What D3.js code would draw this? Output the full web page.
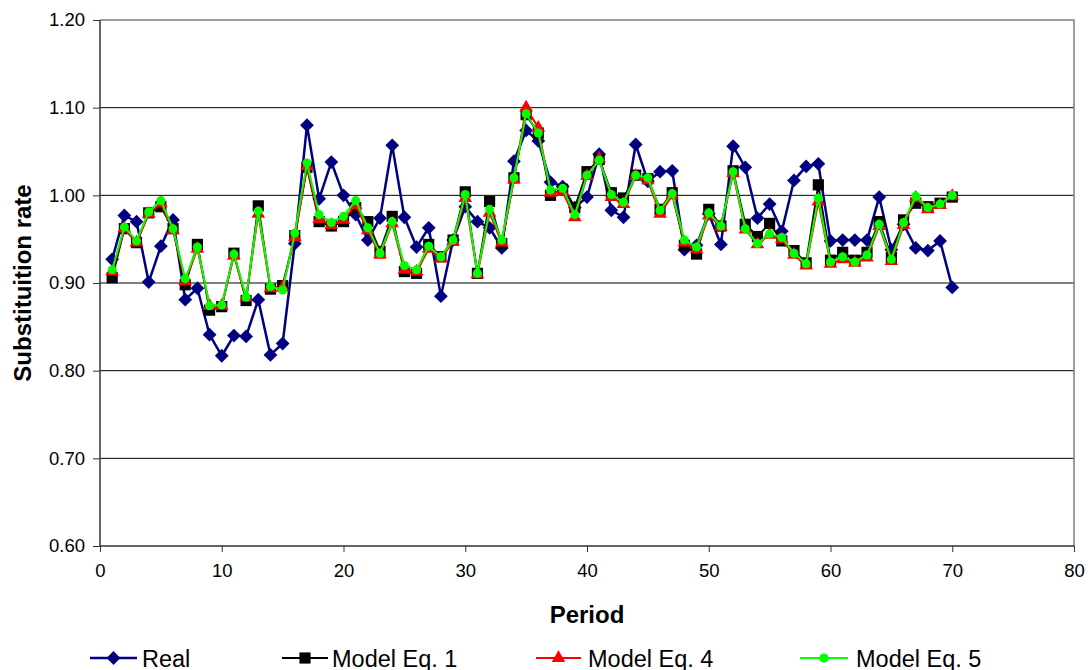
<!DOCTYPE html>
<html><head><meta charset="utf-8">
<script src="https://cdn.jsdelivr.net/npm/d3@7/dist/d3.min.js"></script>
<style>
html,body{margin:0;padding:0;background:#fff;}
svg{display:block;font-family:"Liberation Sans",Arial,sans-serif;}
</style></head>
<body>
<svg id="chart" width="1089" height="670"></svg>
<script>
const periods = d3.range(1, 71);
const real = [0.927,0.977,0.970,0.901,0.942,0.972,0.881,0.894,0.841,0.817,
0.840,0.839,0.881,0.818,0.831,0.945,1.080,0.996,1.038,1.000,
0.978,0.949,0.974,1.057,0.975,0.941,0.963,0.885,0.949,0.987,
0.970,0.963,0.940,1.039,1.074,1.062,1.015,1.010,0.986,0.998,
1.047,0.983,0.975,1.058,1.016,1.027,1.028,0.938,0.943,0.979,
0.944,1.056,1.032,0.974,0.990,0.959,1.017,1.033,1.036,0.948,
0.949,0.949,0.949,0.998,0.938,0.967,0.940,0.937,0.948,0.895];
const eq1 = [0.906,0.962,0.946,0.980,0.987,0.962,0.898,0.944,0.869,0.873,
0.934,0.880,0.988,0.893,0.897,0.954,1.032,0.970,0.965,0.970,
0.986,0.970,0.936,0.976,0.913,0.911,0.944,0.930,0.949,1.004,
0.911,0.993,0.945,1.020,1.092,1.071,1.000,1.007,0.986,1.027,
1.041,1.003,0.997,1.023,1.019,0.984,1.003,0.943,0.933,0.984,
0.965,1.028,0.967,0.953,0.968,0.948,0.937,0.923,1.012,0.926,
0.935,0.926,0.935,0.970,0.929,0.972,0.991,0.987,0.991,0.998];
const eq4 = [0.913,0.962,0.946,0.979,0.991,0.960,0.902,0.939,0.874,0.874,
0.931,0.883,0.979,0.894,0.895,0.952,1.033,0.973,0.966,0.972,
0.989,0.960,0.932,0.968,0.915,0.913,0.939,0.928,0.947,0.997,
0.910,0.980,0.946,1.018,1.100,1.077,1.003,1.004,0.975,1.022,
1.042,0.998,0.990,1.022,1.017,0.979,1.000,0.946,0.938,0.977,
0.964,1.025,0.961,0.944,0.955,0.950,0.932,0.920,0.993,0.922,
0.927,0.923,0.929,0.965,0.925,0.966,0.997,0.984,0.989,0.999];
const eq5 = [0.915,0.964,0.948,0.981,0.994,0.962,0.905,0.941,0.874,0.875,
0.933,0.884,0.982,0.896,0.892,0.957,1.037,0.978,0.969,0.976,
0.994,0.963,0.934,0.970,0.920,0.915,0.942,0.930,0.949,1.001,
0.911,0.984,0.949,1.020,1.093,1.071,1.006,1.008,0.978,1.023,
1.040,1.001,0.992,1.023,1.020,0.983,1.002,0.949,0.941,0.980,
0.965,1.027,0.962,0.945,0.956,0.952,0.934,0.922,0.997,0.924,
0.930,0.924,0.932,0.967,0.927,0.969,0.999,0.986,0.990,1.000];
const seriesNames = ["Real","Model Eq. 1","Model Eq. 4","Model Eq. 5"];
const xTicks = [0,10,20,30,40,50,60,70,80];
const yTicks = [0.60,0.70,0.80,0.90,1.00,1.10,1.20];

const mLeft = 100, mRight = 1074, mTop = 20, mBottom = 546;
const svg = d3.select("#chart");
const x = d3.scaleLinear().domain([0,80]).range([mLeft,mRight]);
const y = d3.scaleLinear().domain([0.6,1.2]).range([mBottom,mTop]);

// gridlines
svg.append("g").selectAll("line").data(yTicks.filter(v => v > 0.65 && v < 1.15)).join("line")
  .attr("x1", mLeft).attr("x2", mRight).attr("y1", d => y(d)).attr("y2", d => y(d))
  .attr("stroke", "#000").attr("stroke-width", 1);
// plot border top/right
svg.append("path").attr("d", `M${mLeft},${mTop}H${mRight}V${mBottom}`)
  .attr("fill","none").attr("stroke","#808080").attr("stroke-width",1.5);

// axes
const yAxis = svg.append("g").attr("transform", `translate(${mLeft},0)`)
  .call(d3.axisLeft(y).tickValues(yTicks).tickFormat(d3.format(".2f")).tickSize(7).tickPadding(8));
const xAxis = svg.append("g").attr("transform", `translate(0,${mBottom})`)
  .call(d3.axisBottom(x).tickValues(xTicks).tickSize(6).tickPadding(12));
[yAxis, xAxis].forEach(a => {
  a.select(".domain").attr("stroke","#333").attr("stroke-width",1.5);
  a.selectAll(".tick line").attr("stroke","#333");
  a.selectAll("text").attr("font-size","18.5px").attr("fill","#000")
    .attr("font-family","'Liberation Sans',Arial,sans-serif");
});
xAxis.select(".domain").attr("d", `M${mLeft},0H${mRight}`);
yAxis.select(".domain").attr("d", `M0,${mBottom}V${mTop}`);

// axis titles
svg.append("text").attr("x", 587).attr("y", 623).attr("text-anchor","middle")
  .attr("font-size","24px").attr("font-weight","bold").text("Period");
svg.append("text").attr("transform","translate(31,283) rotate(-90)").attr("text-anchor","middle")
  .attr("font-size","24px").attr("font-weight","bold").text("Substituition rate");

// symbols
const diamond = d3.symbol().type(d3.symbolSquare).size(95);
const square = d3.symbol().type(d3.symbolSquare).size(125);
const triangle = d3.symbol().type(d3.symbolTriangle).size(80);
const circle = d3.symbol().type(d3.symbolCircle).size(64);

const series = [
  {name: seriesNames[0], data: real, color: "#000080", w: 2.5, sym: diamond, rot: 45},
  {name: seriesNames[1], data: eq1, color: "#000000", w: 2, sym: square, rot: 0},
  {name: seriesNames[2], data: eq4, color: "#ff0000", w: 2, sym: triangle, rot: 0},
  {name: seriesNames[3], data: eq5, color: "#00ff00", w: 2, sym: circle, rot: 0}
];
const line = d3.line().x((d,i) => x(periods[i])).y(d => y(d));

series.forEach(s => {
  const g = svg.append("g");
  g.append("path").attr("d", line(s.data)).attr("fill","none")
    .attr("stroke", s.color).attr("stroke-width", s.w).attr("stroke-linejoin","round");
  g.selectAll("path.m").data(s.data).join("path").attr("class","m")
    .attr("d", s.sym())
    .attr("transform", (d,i) => `translate(${x(periods[i])},${y(d)}) rotate(${s.rot})`)
    .attr("fill", s.color);
});

// legend
const legendPos = [{x0:90, x1:137, tx:142},{x0:282, x1:328, tx:332},{x0:536, x1:581, tx:588},{x0:800, x1:848, tx:856}];
const ly = 658;
series.forEach((s, k) => {
  const p = legendPos[k];
  const g = svg.append("g");
  g.append("line").attr("x1", p.x0).attr("x2", p.x1).attr("y1", ly).attr("y2", ly)
    .attr("stroke", s.color).attr("stroke-width", s.w);
  g.append("path").attr("d", s.sym())
    .attr("transform", `translate(${(p.x0+p.x1)/2},${ly}) rotate(${s.rot})`).attr("fill", s.color);
  g.append("text").attr("x", p.tx).attr("y", ly + 8.5).attr("font-size","23.5px").text(s.name);
});
</script>
</body></html>
